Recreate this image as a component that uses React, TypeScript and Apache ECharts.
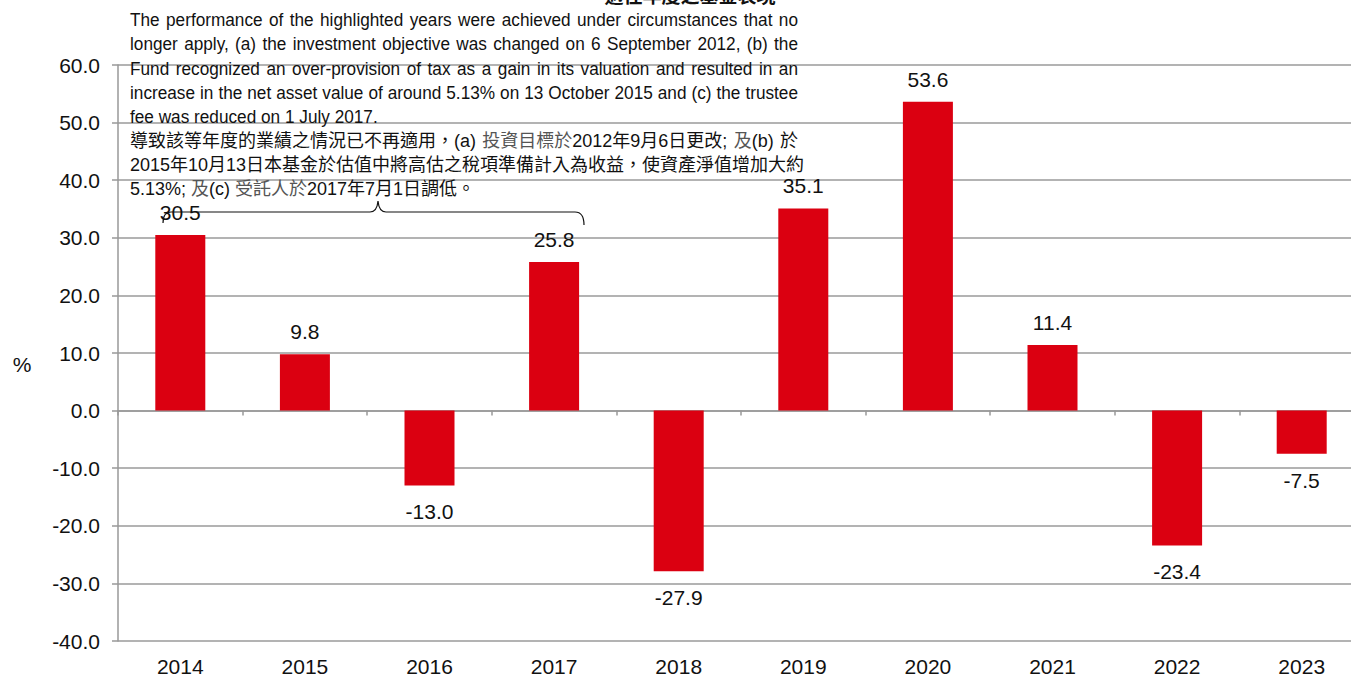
import React, { useEffect, useRef } from 'react';
import * as echarts from 'echarts';

const YEARS = ['2014', '2015', '2016', '2017', '2018', '2019', '2020', '2021', '2022', '2023'];
const RETURNS = [30.5, 9.8, -13.0, 25.8, -27.9, 35.1, 53.6, 11.4, -23.4, -7.5];
const Y_MIN = -40;
const Y_MAX = 60;
const Y_STEP = 10;
const Y_UNIT = '%';
const TOP_TITLE = '過往年度之基金表現';
const NOTE_LINES = [
  'The performance of the highlighted years were achieved under circumstances that no',
  'longer apply, (a) the investment objective was changed on 6 September 2012, (b) the',
  'Fund recognized an over-provision of tax as a gain in its valuation and resulted in an',
  'increase in the net asset value of around 5.13% on 13 October 2015 and (c) the trustee',
  'fee was reduced on 1 July 2017.',
  '導致該等年度的業績之情況已不再適用，(a) {g|投資目標於}2012年9月6日更改; {g|及}(b) 於',
  '2015年10月13日本基金於估值中將高估之稅項準備計入為收益，使資產淨值增加大約',
  '5.13%; {g|及}(c) {g|受託人於}2017年7月1日調低。',
];
const NOTE_JUSTIFY = [true, true, true, true, false, true, false, false];

const BRACE_D = 'M163,223 Q163,212 171,212 L370,212 Q377,212 378,201 Q379,212 386,212 L575,212 Q584,212 584,225';

const NOTE_FONT = '"Liberation Sans", Arial, "Noto Sans CJK TC", sans-serif';
const LABEL_FONT = '"Liberation Sans", Arial, sans-serif';

let braceRegistered = false;

export default function App() {
  const ref = useRef<HTMLDivElement>(null);

  useEffect(() => {
    if (!ref.current) return;
    if (!braceRegistered) {
      echarts.graphic.registerShape('brace', echarts.graphic.extendPath(BRACE_D, {}) as any);
      braceRegistered = true;
    }
    const chart = echarts.init(ref.current, null, { renderer: 'svg' });

    const canvas = document.createElement('canvas');
    const ctx = canvas.getContext('2d') as CanvasRenderingContext2D;
    const strip = (s: string) => s.replace(/\{g\|([^}]*)\}/g, '$1');

    const noteLeft = 130;
    const noteRight = 798;
    const noteTop = 20;
    const noteStep = 24.2;

    const noteEls: any[] = [];
    NOTE_LINES.forEach((line, i) => {
      const isCJK = /[\u4e00-\u9fff]/.test(line);
      const size = isCJK ? 18 : 18.5;
      const sx = isCJK ? 1 : 0.93;
      ctx.font = `${size}px ${NOTE_FONT}`;
      const measure = (s: string) => ctx.measureText(strip(s)).width * sx;
      const rich = { g: { fill: '#555', fontSize: size, fontFamily: NOTE_FONT } };
      const y = noteTop + i * noteStep;
      const words = line.split(' ');
      const widths = words.map(measure);
      const sum = widths.reduce((a, b) => a + b, 0);
      const spaceW = measure(' ');
      let gap = spaceW;
      if (NOTE_JUSTIFY[i] && words.length > 1) {
        const g = (noteRight - noteLeft - sum) / (words.length - 1);
        if (g > spaceW * 0.4 && g < spaceW * 5) gap = g;
      }
      let x = noteLeft;
      words.forEach((w, k) => {
        noteEls.push({
          type: 'text',
          x,
          y,
          scaleX: sx,
          z: 10,
          style: {
            text: w,
            fontSize: size,
            fontFamily: NOTE_FONT,
            fill: '#111',
            textVerticalAlign: 'middle',
            rich,
          },
        });
        x += widths[k] + gap;
      });
    });

    chart.setOption({
      animation: false,
      grid: { left: 118, top: 65, width: 1246, bottom: 34, containLabel: false },
      xAxis: [
        {
          type: 'category',
          data: YEARS,
          position: 'bottom',
          axisLine: { show: false, onZero: false },
          axisTick: { show: false },
          axisLabel: { fontSize: 21, color: '#111', margin: 15, fontFamily: LABEL_FONT },
          splitLine: { show: false },
        },
        {
          type: 'category',
          data: YEARS,
          position: 'top',
          axisLine: { show: true, onZero: true, lineStyle: { color: '#999', width: 1.5 } },
          axisTick: { show: true, inside: true, length: 5, lineStyle: { color: '#999', width: 1.5 } },
          axisLabel: { show: false },
          splitLine: { show: false },
        },
      ],
      yAxis: {
        type: 'value',
        min: Y_MIN,
        max: Y_MAX,
        interval: Y_STEP,
        axisLine: { show: true, lineStyle: { color: '#999', width: 1.5 } },
        axisTick: { show: true, length: 6, lineStyle: { color: '#999', width: 1.5 } },
        axisLabel: {
          formatter: (v: number) => v.toFixed(1),
          fontSize: 21,
          color: '#111',
          margin: 18,
          fontFamily: LABEL_FONT,
        },
        splitLine: { show: true, lineStyle: { color: '#9a9a9a', width: 1.5 } },
      },
      series: [
        {
          type: 'bar',
          xAxisIndex: 0,
          barWidth: 50,
          itemStyle: { color: '#DB0011' },
          label: {
            show: true,
            formatter: (p: any) => Number(p.value).toFixed(1),
            fontSize: 21,
            color: '#111',
            fontFamily: LABEL_FONT,
          },
          data: RETURNS.map((v) => ({
            value: v,
            label: { position: v >= 0 ? 'top' : 'bottom', distance: v >= 0 ? 12 : 16 },
          })),
          z: 2,
        },
      ],
      graphic: [
        {
          type: 'text',
          x: 22,
          y: 364,
          style: {
            text: Y_UNIT,
            fontSize: 21,
            fontFamily: LABEL_FONT,
            fill: '#111',
            textAlign: 'center',
            textVerticalAlign: 'middle',
          },
        },
        {
          type: 'text',
          x: 690,
          y: 4,
          style: {
            text: TOP_TITLE,
            fontSize: 19,
            fontWeight: 'bold',
            fontFamily: '"Noto Sans CJK TC", sans-serif',
            fill: '#111',
            textAlign: 'center',
            textVerticalAlign: 'bottom',
          },
        },
        ...noteEls,
        {
          type: 'brace',
          x: 0,
          y: 0,
          z: 20,
          style: { stroke: '#111', fill: 'none', lineWidth: 1.2 },
        },
      ],
    });

    return () => {
      chart.dispose();
    };
  }, []);

  return (
    <div
      style={{
        position: 'absolute',
        left: 0,
        top: 0,
        width: 1351,
        height: 677,
        overflow: 'hidden',
        background: '#fff',
      }}
    >
      <div ref={ref} style={{ width: 1370, height: 677 }} />
    </div>
  );
}
